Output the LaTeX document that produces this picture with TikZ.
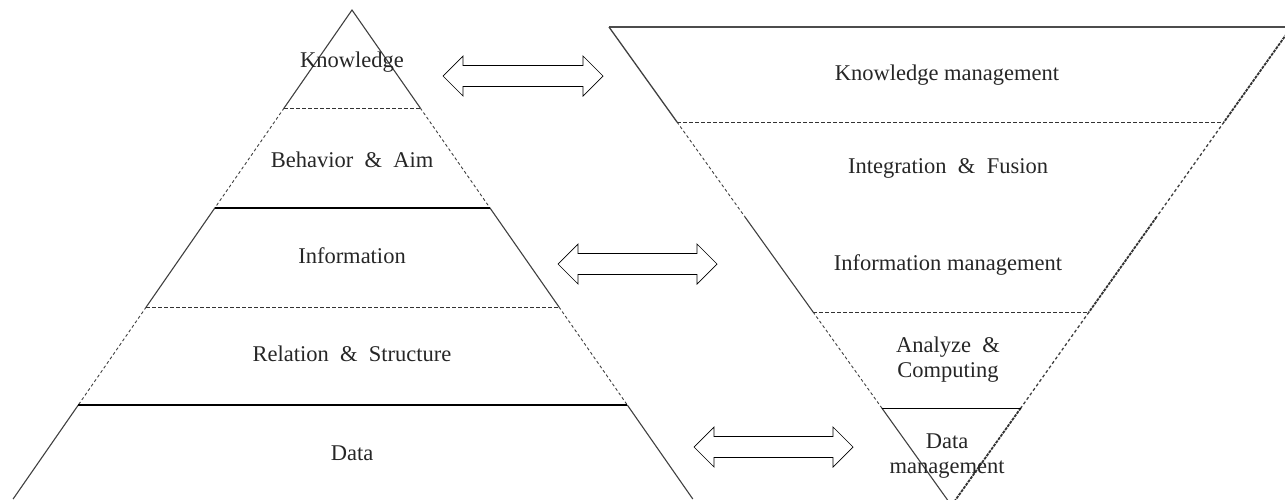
\documentclass[tikz,border=0pt]{standalone}
\usepackage{fontspec}
\setmainfont{Liberation Serif}
\usetikzlibrary{calc}
\begin{document}
\begin{tikzpicture}[x=1pt,y=-1pt,
  edge/.style={draw=black!75,line width=1.1pt},
  dedge/.style={draw=black!75,line width=0.9pt,dash pattern=on 3pt off 2.5pt},
  rdense/.style={draw=black!80,line width=1.8pt,dash pattern=on 3pt off 1pt},
  thickline/.style={draw=black,line width=2pt},
  thinline/.style={draw=black,line width=1pt},
  dline/.style={draw=black!80,line width=0.9pt,dash pattern=on 4pt off 2pt},
  lbl/.style={font=\fontsize{22.5}{25}\selectfont,text=black!85,align=center,inner sep=0pt},
  dbl/.style={draw=black,line width=0.7pt,fill=white,line join=miter}]
\useasboundingbox (0,0) rectangle (1285,499);
\clip (0,0) rectangle (1285,499);
% left pyramid
\coordinate (A) at (352,10);
\coordinate (L1) at (284.1,108); \coordinate (R1) at (420.3,108);
\coordinate (L2) at (214.8,208); \coordinate (R2) at (490.0,208);
\coordinate (L3) at (146.2,307); \coordinate (R3) at (559.0,307);
\coordinate (L4) at (78.3,405);  \coordinate (R4) at (627.3,405);
\coordinate (L5) at (13.1,499);  \coordinate (R5) at (692.8,499);
\draw[edge] (L1) -- (A) -- (R1);
\draw[dedge] (L1) -- (L2) (R1) -- (R2);
\draw[edge] (L2) -- (L3) (R2) -- (R3);
\draw[dedge] (L3) -- (L4) (R3) -- (R4);
\draw[edge] (L4) -- (L5) (R4) -- (R5);
\draw[dline] (L1) -- (R1);
\draw[thickline] (L2) -- (R2);
\draw[dline] (L3) -- (R3);
\draw[thickline] (L4) -- (R4);
% inverted pyramid
\coordinate (TL) at (609,27); \coordinate (TR) at (1291.5,27);
\coordinate (M1) at (677.0,122); \coordinate (N1) at (1224,122);
\coordinate (M2) at (745.0,217); \coordinate (N2) at (1156.5,217);
\coordinate (M3) at (813.1,312); \coordinate (N3) at (1089,312);
\coordinate (M4) at (881.8,408); \coordinate (N4) at (1020.8,408);
\coordinate (B) at (951.5,505.5);
\draw[draw=black!70,line width=1.3pt] (TL) -- (TR);
\draw[edge,line width=1.3pt] (TL) -- (M1);
\draw[dedge] (M1) -- (M2);
\draw[edge] (M2) -- (M3);
\draw[dedge] (M3) -- (M4);
\draw[edge] (M4) -- (B);
\draw[rdense] (TR) -- (N1);
\draw[dedge,line width=1.3pt] (N1) -- (N2);
\draw[rdense] (N2) -- (N3);
\draw[dedge,line width=1.3pt] (N3) -- (N4);
\draw[rdense] (N4) -- (B);
\draw[dline] (M1) -- (N1);
\draw[dline] (M3) -- (N3);
\draw[thinline] (M4) -- (N4);
% labels left
\node[lbl] (k) at (352,62) {Knowledge};
\node[lbl] (ba) at (352,160) {Behavior \ \& \ Aim};
\node[lbl] (inf) at (352,256) {Information};
\node[lbl] (rs) at (352,354) {Relation \ \& \ Structure};
\node[lbl] (d) at (352,453) {Data};
% labels right
\node[lbl] (km) at (947,75) {Knowledge management};
\node[lbl] (if) at (948,168) {Integration \ \& \ Fusion};
\node[lbl] (im) at (948,265) {Information management};
\node[lbl] (ac) at (948,360) {Analyze \ \&\\Computing};
\node[lbl] (dm) at (947,456) {Data\\management};
% arrows (hollow double arrows)
\foreach \n/\xa/\xb/\yc in {a1/443/603/76, a2/558/717/264, a3/694/853/447}{
  \coordinate (\n l) at (\xa,\yc);
  \coordinate (\n r) at (\xb,\yc);
  \draw[dbl] (\n l) -- ++(20,-20) -- ++(0,9.5) -- ($(\n r)+(-20,-10.5)$) -- ++(0,-9.5) -- (\n r)
     -- ++(-20,20) -- ++(0,-9.5) -- ($(\n l)+(20,10.5)$) -- ++(0,9.5) -- cycle;
}
\end{tikzpicture}
\end{document}
